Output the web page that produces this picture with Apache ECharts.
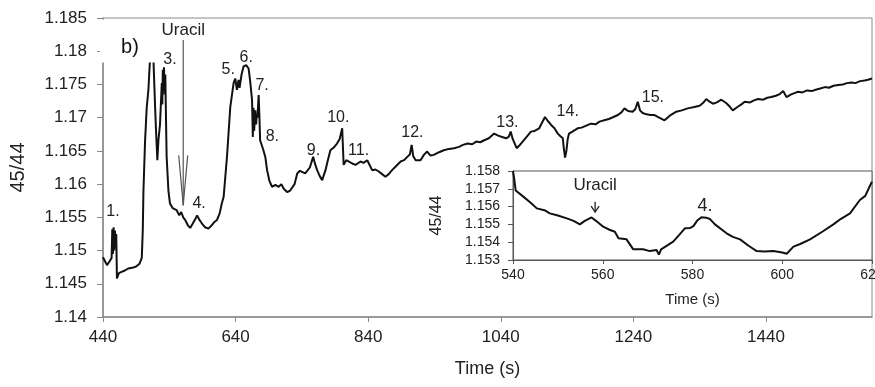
<!DOCTYPE html>
<html>
<head>
<meta charset="utf-8">
<script src="https://cdn.jsdelivr.net/npm/echarts@6/dist/echarts.min.js"></script>
<style>
  html, body { margin: 0; padding: 0; background: #fff; }
  #chart { width: 875px; height: 387px; }
</style>
</head>
<body>
<div id="chart"></div>
<script>
// 主图数据 (time s, 45/44)
var mainTime = [440, 443, 446, 450, 453, 454, 455, 456, 457, 458, 459, 460, 461, 464, 468, 473, 478, 484, 490, 495, 498.5, 500, 501, 503.5, 506, 508.5, 511, 513, 516, 518.6, 520, 522, 523.6, 526, 528.7, 529.5, 530.2, 531, 532, 533, 534, 535, 536, 538.7, 541, 545, 551, 555, 558, 561, 564, 568, 571.5, 575, 579, 582, 585, 589, 594, 599, 604, 608, 612, 616, 619, 622, 627, 632, 637, 639.5, 642, 644.5, 646, 649, 652, 656, 659.6, 662, 664.8, 666, 667, 668, 669.8, 671, 672, 673, 674.8, 676, 677, 682, 685, 687.5, 691, 695, 700, 705, 709, 712.6, 717.7, 722, 725, 729, 733, 737, 740, 745, 748, 752, 757, 760, 763, 767, 770.6, 775.6, 779, 783, 788, 793, 797, 800.8, 803, 807, 811, 816, 821, 828.5, 833, 838.6, 846, 851, 856, 861, 866, 871, 876, 883, 889, 894, 899, 903, 905.6, 908, 911.6, 919, 924, 929, 934, 939, 947, 954, 962, 969.6, 977, 983, 990, 997, 1003, 1009, 1015, 1022, 1030, 1036, 1042, 1048, 1052, 1055, 1058, 1064, 1068, 1073, 1079, 1085.5, 1091, 1098, 1102, 1106.7, 1111, 1116, 1121, 1126, 1130, 1133.6, 1135, 1137, 1139, 1141, 1143, 1148, 1156, 1162, 1169, 1176, 1183, 1189, 1196, 1203, 1210, 1216.6, 1222, 1226.6, 1232, 1239, 1243, 1246.7, 1250, 1254, 1260, 1266, 1272, 1279, 1287, 1295, 1304.7, 1313, 1322, 1332, 1340, 1345, 1350, 1355, 1360, 1366, 1372.7, 1380, 1386, 1390, 1397, 1403, 1408, 1416, 1422, 1428, 1436, 1442, 1448, 1455, 1460, 1466, 1471, 1478, 1483, 1488.6, 1495, 1502, 1509, 1515, 1522, 1529, 1535, 1542, 1549, 1556, 1562, 1569, 1575, 1582, 1589, 1594, 1600];
var mainValue = [1.1490, 1.1484, 1.1478, 1.1484, 1.1489, 1.1532, 1.1495, 1.1535, 1.1500, 1.1530, 1.1505, 1.1525, 1.1458, 1.1466, 1.1468, 1.1470, 1.1473, 1.1474, 1.1476, 1.1480, 1.1489, 1.1530, 1.1590, 1.1666, 1.1716, 1.1742, 1.1790, 1.1800, 1.1790, 1.1716, 1.1680, 1.1636, 1.1666, 1.1690, 1.1752, 1.1720, 1.1772, 1.1740, 1.1776, 1.1735, 1.1765, 1.1700, 1.1641, 1.1590, 1.1571, 1.1564, 1.1561, 1.1553, 1.1558, 1.1550, 1.1546, 1.1538, 1.1534, 1.1540, 1.1547, 1.1553, 1.1547, 1.1541, 1.1535, 1.1533, 1.1538, 1.1543, 1.1546, 1.1556, 1.1570, 1.1581, 1.1641, 1.1716, 1.1752, 1.1759, 1.1742, 1.1757, 1.1745, 1.1765, 1.1777, 1.1779, 1.1774, 1.1755, 1.1727, 1.1671, 1.1715, 1.1680, 1.1711, 1.1690, 1.1705, 1.1700, 1.1734, 1.1700, 1.1666, 1.1651, 1.1640, 1.1621, 1.1605, 1.1596, 1.1599, 1.1596, 1.1600, 1.1593, 1.1588, 1.1590, 1.1588, 1.1600, 1.1616, 1.1620, 1.1619, 1.1616, 1.1614, 1.1625, 1.1641, 1.1630, 1.1621, 1.1612, 1.1606, 1.1621, 1.1635, 1.1651, 1.1655, 1.1661, 1.1668, 1.1684, 1.1629, 1.1636, 1.1634, 1.1631, 1.1629, 1.1634, 1.1632, 1.1636, 1.1621, 1.1622, 1.1619, 1.1615, 1.1611, 1.1615, 1.1621, 1.1628, 1.1634, 1.1636, 1.1641, 1.1645, 1.1659, 1.1642, 1.1636, 1.1636, 1.1644, 1.1649, 1.1643, 1.1644, 1.1648, 1.1651, 1.1653, 1.1654, 1.1656, 1.1659, 1.1661, 1.1660, 1.1664, 1.1663, 1.1666, 1.1669, 1.1676, 1.1673, 1.1671, 1.1669, 1.1671, 1.1679, 1.1668, 1.1654, 1.1658, 1.1664, 1.1671, 1.1679, 1.1680, 1.1684, 1.1692, 1.1701, 1.1695, 1.1689, 1.1684, 1.1676, 1.1672, 1.1669, 1.1655, 1.1640, 1.1650, 1.1668, 1.1676, 1.1679, 1.1684, 1.1685, 1.1688, 1.1691, 1.1690, 1.1694, 1.1696, 1.1698, 1.1701, 1.1704, 1.1708, 1.1714, 1.1710, 1.1709, 1.1713, 1.1724, 1.1711, 1.1707, 1.1705, 1.1704, 1.1704, 1.1700, 1.1696, 1.1703, 1.1709, 1.1711, 1.1714, 1.1716, 1.1718, 1.1722, 1.1728, 1.1724, 1.1721, 1.1723, 1.1727, 1.1722, 1.1716, 1.1711, 1.1716, 1.1720, 1.1724, 1.1723, 1.1726, 1.1728, 1.1727, 1.1730, 1.1731, 1.1733, 1.1735, 1.1740, 1.1731, 1.1735, 1.1737, 1.1739, 1.1738, 1.1741, 1.1740, 1.1742, 1.1744, 1.1746, 1.1745, 1.1748, 1.1749, 1.1750, 1.1752, 1.1753, 1.1752, 1.1755, 1.1756, 1.1757, 1.1759];

// 小图数据 540-620 s
var insetTime = [540, 540.3, 540.6, 542.3, 544, 545.3, 547, 548.2, 550, 552, 553.5, 554.9, 556, 557.5, 558.5, 560.1, 561.5, 562.7, 563.5, 565.3, 566.8, 568, 569, 570.5, 572, 572.5, 573, 575.7, 577, 578.3, 579.5, 580.2, 581, 582, 583, 583.9, 585, 587.6, 589, 590.6, 592.5, 594.3, 596, 598, 600, 601, 602.5, 604, 606.2, 609, 611.4, 613, 615.1, 617.3, 618.5, 619.6, 620];
var insetValue = [1.1580, 1.1575, 1.1569, 1.15656, 1.1562, 1.1559, 1.1558, 1.15562, 1.1555, 1.15534, 1.1552, 1.1550, 1.1552, 1.15539, 1.1552, 1.15487, 1.1547, 1.15459, 1.15422, 1.15416, 1.1536, 1.1536, 1.1536, 1.1535, 1.15356, 1.1533, 1.1536, 1.15403, 1.1544, 1.15478, 1.1548, 1.1549, 1.1552, 1.1554, 1.15538, 1.1553, 1.1550, 1.1545, 1.1543, 1.15416, 1.1538, 1.1535, 1.15348, 1.1535, 1.15342, 1.15335, 1.15375, 1.1539, 1.15416, 1.1546, 1.1550, 1.1553, 1.15562, 1.15637, 1.1566, 1.1572, 1.1574];

// 刻度
var mainXTicks = [440, 640, 840, 1040, 1240, 1440];
var mainYTicks = [1.14, 1.145, 1.15, 1.155, 1.16, 1.165, 1.17, 1.175, 1.18, 1.185];
var insetXTicks = [540, 560, 580, 600, 620];
var insetYTicks = [1.153, 1.154, 1.155, 1.156, 1.157, 1.158];

// 峰标记 (label centre in data coords)
var peakNames = ['1.', '3.', '4.', '5.', '6.', '7.', '8.', '9.', '10.', '11.', '12.', '13.', '14.', '15.'];
var peakTime = [455, 541, 585, 629, 656, 680, 695.5, 757.5, 795, 825.5, 906.7, 1050, 1141, 1269.5];
var peakValue = [1.1558, 1.1787, 1.1571, 1.1772, 1.1790, 1.1749, 1.1671, 1.1651, 1.1700, 1.1651, 1.1677, 1.1692, 1.1709, 1.1730];

// Uracil 箭头
var uracilMain = { time: 561, top: 1.1817, tip: 1.1568, text: 1.1832 };
var uracilInset = { time: 558.3, top: 1.15627, tip: 1.15569, text: 1.15721 };
var insetPeak = { name: '4.', time: 582.8, value: 1.15602 };

var font = 'Liberation Sans, Arial, sans-serif';
var chart = echarts.init(document.getElementById('chart'));

function fmt(v) {
  return String(+v.toFixed(3));
}

var mainData = mainTime.map(function (t, i) { return [t, mainValue[i]]; });
var insetData = insetTime.map(function (t, i) { return [t, insetValue[i]]; });
var peakData = peakNames.map(function (n, i) {
  return { name: n, coord: [peakTime[i], peakValue[i]] };
});

var option = {
  animation: false,
  backgroundColor: '#fff',
  textStyle: { fontFamily: font },
  grid: [{
    left: 103, top: 18, right: 3, bottom: 70,
    outerBoundsMode: 'none', containLabel: false,
    show: true, borderColor: '#8a8a8a', borderWidth: 1
  }, {
    left: 513, top: 171, right: 3, bottom: 127,
    outerBoundsMode: 'none', containLabel: false,
    show: true, borderColor: '#555', borderWidth: 1, backgroundColor: '#fff'
  }],
  xAxis: [{
    type: 'value', gridIndex: 0,
    min: 440, max: 1600, interval: 200,
    name: 'Time (s)', nameLocation: 'middle', nameGap: 43,
    nameTextStyle: { fontSize: 18, color: '#222', fontFamily: font },
    axisLine: { show: true, lineStyle: { color: '#8a8a8a', width: 1.5 } },
    axisTick: { show: true, length: 5, customValues: mainXTicks, lineStyle: { color: '#8a8a8a' } },
    axisLabel: { customValues: mainXTicks, formatter: function (v) { return String(v); }, fontSize: 17, color: '#222', margin: 12, fontFamily: font },
    splitLine: { show: false }
  }, {
    type: 'value', gridIndex: 1,
    min: 540, max: 620, interval: 20,
    name: 'Time (s)', nameLocation: 'middle', nameGap: 32,
    nameTextStyle: { fontSize: 15, color: '#222', fontFamily: font },
    axisLine: { show: true, lineStyle: { color: '#555' } },
    axisTick: { show: true, length: 4, customValues: insetXTicks, lineStyle: { color: '#555' } },
    axisLabel: { customValues: insetXTicks, formatter: function (v) { return String(v); }, fontSize: 14, color: '#222', margin: 8, fontFamily: font },
    splitLine: { show: false }
  }],
  yAxis: [{
    type: 'value', gridIndex: 0,
    min: 1.14, max: 1.185, interval: 0.005,
    name: '45/44', nameLocation: 'middle', nameGap: 75, nameRotate: 90,
    nameTextStyle: { fontSize: 20, color: '#222', fontFamily: font },
    axisLine: { show: true, lineStyle: { color: '#8a8a8a', width: 1.5 } },
    axisTick: { show: true, length: 6, customValues: mainYTicks, lineStyle: { color: '#8a8a8a' } },
    axisLabel: { customValues: mainYTicks, formatter: fmt, fontSize: 17, color: '#222', margin: 16, fontFamily: font },
    splitLine: { show: false }
  }, {
    type: 'value', gridIndex: 1,
    min: 1.153, max: 1.158, interval: 0.001,
    name: '45/44', nameLocation: 'middle', nameGap: 68, nameRotate: 90,
    nameTextStyle: { fontSize: 16, color: '#222', fontFamily: font },
    axisLine: { show: true, lineStyle: { color: '#555' } },
    axisTick: { show: true, length: 5, customValues: insetYTicks, lineStyle: { color: '#555' } },
    axisLabel: { customValues: insetYTicks, formatter: fmt, fontSize: 14, color: '#222', margin: 13, fontFamily: font },
    splitLine: { show: false }
  }],
  series: [{
    type: 'line', xAxisIndex: 0, yAxisIndex: 0,
    data: mainData, showSymbol: false, symbol: 'none',
    lineStyle: { color: '#111', width: 2 },
    markPoint: {
      symbol: 'circle', symbolSize: 0,
      label: {
        show: true, position: 'inside', formatter: '{b}',
        fontSize: 16, color: '#222', fontFamily: font
      },
      data: peakData
    }
  }, {
    type: 'line', xAxisIndex: 1, yAxisIndex: 1,
    data: insetData, showSymbol: false, symbol: 'none',
    lineStyle: { color: '#111', width: 2 },
    markPoint: {
      symbol: 'circle', symbolSize: 0,
      label: {
        show: true, position: 'inside', formatter: '{b}',
        fontSize: 18, color: '#222', fontFamily: font
      },
      data: [{ name: insetPeak.name, coord: [insetPeak.time, insetPeak.value] }]
    }
  }]
};
chart.setOption(option);

// 箭头和 b) 标签
function px(idx, t, v) {
  return chart.convertToPixel({ xAxisIndex: idx, yAxisIndex: idx }, [t, v]);
}
var mTop = px(0, uracilMain.time, uracilMain.top);
var mTip = px(0, uracilMain.time, uracilMain.tip);
var mTxt = px(0, uracilMain.time, uracilMain.text);
var iTop = px(1, uracilInset.time, uracilInset.top);
var iTip = px(1, uracilInset.time, uracilInset.tip);
var iTxt = px(1, uracilInset.time, uracilInset.text);

chart.setOption({
  graphic: [
    { type: 'rect', z: 100, shape: { x: 100, y: 19.5, width: 56, height: 43 }, style: { fill: '#fff' } },
    { type: 'text', z: 101, x: 130, y: 47, style: { text: 'b)', font: '20px ' + font, fill: '#111', align: 'center', verticalAlign: 'middle' } },
    { type: 'line', z: 101, shape: { x1: mTop[0], y1: mTop[1], x2: mTip[0], y2: mTip[1] }, style: { stroke: '#555', lineWidth: 1.2 } },
    { type: 'polyline', z: 101, shape: { points: [[mTip[0] - 4.5, mTip[1] - 50], [mTip[0], mTip[1]], [mTip[0] + 4.5, mTip[1] - 50]] }, style: { stroke: '#555', lineWidth: 1.2, fill: 'none' } },
    { type: 'text', z: 101, x: mTxt[0], y: mTxt[1], style: { text: 'Uracil', font: '17px ' + font, fill: '#222', align: 'center', verticalAlign: 'middle' } },
    { type: 'line', z: 101, shape: { x1: iTop[0], y1: iTop[1], x2: iTip[0], y2: iTip[1] }, style: { stroke: '#222', lineWidth: 1.3 } },
    { type: 'polyline', z: 101, shape: { points: [[iTip[0] - 4, iTip[1] - 6], [iTip[0], iTip[1]], [iTip[0] + 4, iTip[1] - 6]] }, style: { stroke: '#222', lineWidth: 1.3, fill: 'none' } },
    { type: 'text', z: 101, x: iTxt[0], y: iTxt[1], style: { text: 'Uracil', font: '17px ' + font, fill: '#222', align: 'center', verticalAlign: 'middle' } }
  ]
});
</script>
</body>
</html>
